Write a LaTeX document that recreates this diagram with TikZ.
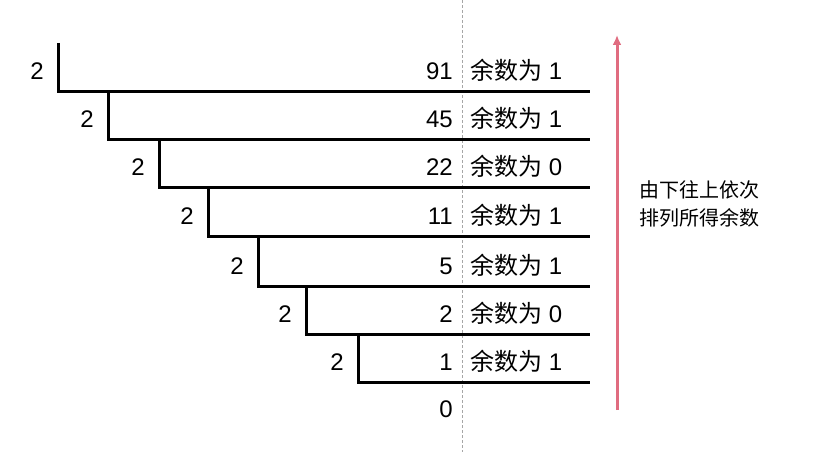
\documentclass[tikz,border=0pt]{standalone}
\usepackage{fontspec}
\usetikzlibrary{arrows.meta}
\setmainfont{Liberation Sans}
\newfontfamily\cjk{Noto Sans CJK SC}
\begin{document}
\begin{tikzpicture}[x=1pt,y=-1pt,
  bar/.style={line width=3pt},
  num/.style={font=\fontsize{24}{26}\selectfont,inner sep=0pt,anchor=base east},
  two/.style={font=\fontsize{24}{26}\selectfont,inner sep=0pt,anchor=base},
  rem/.style={font=\fontsize{24}{26}\selectfont,inner sep=0pt,anchor=base west}]
\useasboundingbox (0,0) rectangle (829,452);
\draw[gray!70,dashed,dash pattern=on 3pt off 2pt] (462,0) -- (462,452);
\foreach \x/\yt/\n/\r [count=\i] in {58/43/91/1,108/91/45/1,159/139/22/0,208/188/11/1,258/238/5/1,306/286/2/0,358/334/1/1}{
  \pgfmathsetmacro\yb{\yt+48}
  \draw[bar] (\x,\yt) -- (\x,\yb) -- (590,\yb);
  \node[two] (d\i) at (\x-21,\yb-12) {2};
  \node[num] (n\i) at (453,\yb-12) {\n};
  \node[rem] (r\i) at (470,\yb-12) {{\cjk 余数为} \r};
}
\node[num] (z) at (453,417) {0};
\coordinate (a1) at (617,410);
\coordinate (a2) at (617,35);
\draw[line width=3pt,color={rgb,255:red,224;green,108;blue,128},-{Latex[length=10pt,width=9pt]}] (a1) -- (a2);
\node[font=\cjk\fontsize{20}{28}\selectfont,align=center] (t) at (699,204) {由下往上依次\\排列所得余数};
\end{tikzpicture}
\end{document}
